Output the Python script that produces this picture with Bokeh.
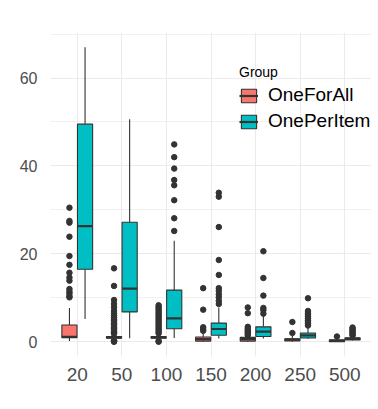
from bokeh.plotting import figure
from bokeh.models import Range1d, FixedTicker, Legend, LegendItem, ColumnDataSource
from bokeh.embed import file_html
from bokeh.resources import INLINE

categories = ["20", "50", "100", "150", "200", "250", "500"]
groups = ["OneForAll", "OnePerItem"]
colors = ["#F8766D", "#00BFC4"]

# OneForAll box statistics
ofa_lo = [0.15, 0.5, 0.5, 0.0, 0.0, 0.0, 0.0]
ofa_q1 = [0.9, 0.8, 0.8, 0.15, 0.15, 0.2, 0.0]
ofa_med = [1.1, 1.0, 1.0, 0.6, 0.6, 0.5, 0.2]
ofa_q3 = [3.8, 1.2, 1.2, 1.1, 1.0, 0.7, 0.45]
ofa_hi = [7.7, 1.5, 1.6, 2.2, 1.3, 1.3, 0.9]
ofa_out = [
    [10.1, 10.4, 11.0, 11.4, 12.0, 13.9, 14.6, 15.7, 17.5, 19.5, 23.9, 27.1, 27.5, 30.5],
    [0.0, 0.1, 0.2, 0.3, 1.8, 2.1, 2.4, 2.7, 3.0, 3.3, 3.6, 3.9, 4.2, 4.5, 4.8, 5.1, 5.5, 6.0,
     6.5, 7.0, 7.8, 8.6, 9.5, 12.7, 16.7],
    [0.0, 0.2, 1.9, 2.3, 2.7, 3.1, 3.5, 3.9, 4.3, 4.7, 5.1, 5.5, 5.9, 6.3, 6.7, 7.1, 7.5, 7.9, 8.3],
    [2.5, 2.9, 3.3, 7.3, 12.2],
    [1.5, 1.8, 2.1, 2.4, 2.7, 3.0, 3.4, 6.5, 7.8],
    [2.0, 4.5],
    [1.2],
]

# OnePerItem box statistics
opi_lo = [5.2, 0.8, 0.85, 0.75, 0.75, 0.7, 0.3]
opi_q1 = [16.5, 6.8, 2.95, 1.5, 1.2, 0.85, 0.4]
opi_med = [26.3, 12.1, 5.3, 2.9, 2.3, 1.45, 0.65]
opi_q3 = [49.5, 27.2, 11.75, 4.25, 3.4, 2.0, 0.9]
opi_hi = [67.0, 50.6, 23.0, 7.8, 5.9, 3.4, 1.2]
opi_out = [
    [],
    [],
    [25.2, 28.1, 32.2, 35.6, 36.8, 39.4, 42.0, 44.9],
    [8.6, 9.3, 10.1, 10.8, 11.6, 12.2, 15.2, 18.6, 26.1, 33.0, 33.9],
    [6.4, 7.2, 7.7, 10.5, 14.5, 20.6],
    [3.7, 4.1, 4.5, 4.9, 5.3, 5.7, 6.1, 6.5, 7.0, 9.9],
    [1.4, 1.7, 2.0, 2.3, 2.6, 2.9, 3.25],
]

y_ticks = [0, 20, 40, 60]
y_minor = [10, 30, 50, 70]

DODGE = 0.175
BOX_W = 0.34
INK = "#333333"
FONT = "Liberation Sans"

p = figure(width=371, height=401, output_backend="svg", toolbar_location=None,
           x_range=Range1d(0.4, 7.6), y_range=Range1d(-3.35, 70.35),
           min_border_left=50, min_border_right=0, min_border_top=32, min_border_bottom=45)
p.outline_line_color = None
p.background_fill_color = "white"
p.border_fill_color = "white"

xpos = list(range(1, len(categories) + 1))
p.xaxis.ticker = FixedTicker(ticks=xpos)
p.xaxis.major_label_overrides = {x: c for x, c in zip(xpos, categories)}
p.yaxis.ticker = FixedTicker(ticks=y_ticks, minor_ticks=y_minor)

for ax in (p.xaxis, p.yaxis):
    ax.axis_line_color = None
    ax.major_tick_line_color = None
    ax.minor_tick_line_color = None
    ax.major_label_text_color = "#4D4D4D"
    ax.major_label_text_font = FONT
p.xaxis.major_label_text_font_size = "19px"
p.yaxis.major_label_text_font_size = "16px"
p.xaxis.major_label_standoff = 5
p.yaxis.major_label_standoff = 7

p.xgrid.grid_line_color = "#EBEBEB"
p.xgrid.grid_line_width = 1.1
p.ygrid.grid_line_color = "#EBEBEB"
p.ygrid.grid_line_width = 1.1
p.ygrid.minor_grid_line_color = "#EBEBEB"
p.ygrid.minor_grid_line_width = 0.7

stats = [
    (ofa_lo, ofa_q1, ofa_med, ofa_q3, ofa_hi, ofa_out, -DODGE),
    (opi_lo, opi_q1, opi_med, opi_q3, opi_hi, opi_out, DODGE),
]

items = []
for (lo, q1, med, q3, hi, out, off), grp, col in zip(stats, groups, colors):
    xs = [x + off for x in xpos]
    src = ColumnDataSource(dict(x=xs, x0=[x - BOX_W / 2 for x in xs], x1=[x + BOX_W / 2 for x in xs],
                                lo=lo, q1=q1, med=med, q3=q3, hi=hi))
    p.segment(x0="x", y0="q3", x1="x", y1="hi", source=src, line_color=INK, line_width=1.1)
    p.segment(x0="x", y0="lo", x1="x", y1="q1", source=src, line_color=INK, line_width=1.1)
    ox, oy = [], []
    for x, vals in zip(xs, out):
        ox += [x] * len(vals)
        oy += vals
    p.scatter(x=ox, y=oy, size=5.5, color=INK)
    rb = p.vbar(x="x", width=BOX_W, bottom="q1", top="q3", source=src,
                fill_color=col, line_color=INK, line_width=1.1)
    rm = p.segment(x0="x0", y0="med", x1="x1", y1="med", source=src, line_color=INK, line_width=2.2)
    items.append(LegendItem(label=grp, renderers=[rb, rm]))

legend = Legend(items=items, title="Group", location=(189, 224))
legend.background_fill_alpha = 0
legend.border_line_color = None
legend.padding = 0
legend.margin = 0
legend.spacing = 4
legend.glyph_width = 19
legend.glyph_height = 17
legend.label_standoff = 10
legend.label_text_font = FONT
legend.label_text_font_size = "19px"
legend.label_text_color = "black"
legend.title_text_font = FONT
legend.title_text_font_size = "14px"
legend.title_text_font_style = "normal"
legend.title_text_color = "black"
legend.title_standoff = 4
p.add_layout(legend)

open("out.html", "w").write(file_html(p, INLINE))
